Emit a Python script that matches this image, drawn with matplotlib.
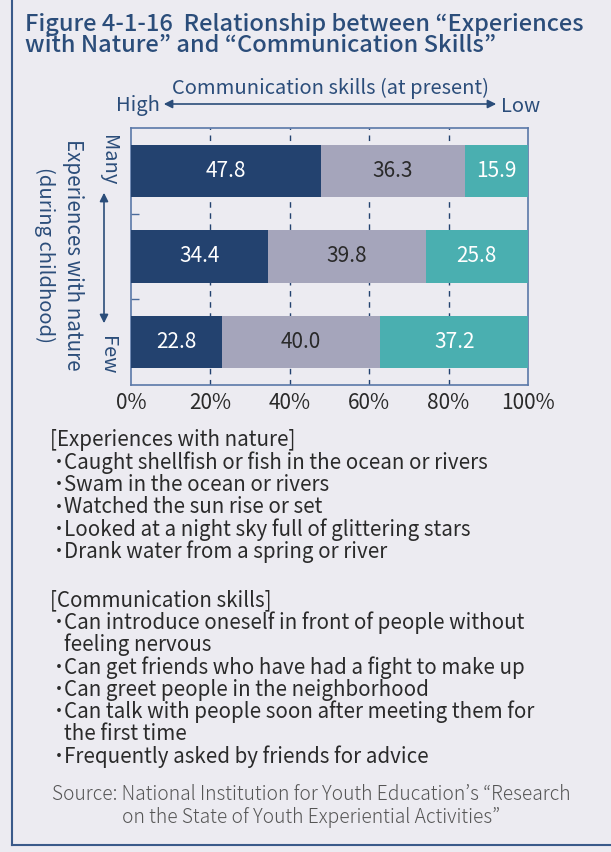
import matplotlib
matplotlib.use("Agg")
import matplotlib.pyplot as plt
import numpy as np

plt.rcParams['font.family'] = ['Noto Sans CJK JP', 'DejaVu Sans']

# --- data ---
groups = ["Many", "", "Few"]
high = [47.8, 34.4, 22.8]
middle = [36.3, 39.8, 40.0]
low = [15.9, 25.8, 37.2]
x_ticks = [0, 20, 40, 60, 80, 100]
x_ticklabels = ["0%", "20%", "40%", "60%", "80%", "100%"]

nature_items = [
    "Caught shellfish or fish in the ocean or rivers",
    "Swam in the ocean or rivers",
    "Watched the sun rise or set",
    "Looked at a night sky full of glittering stars",
    "Drank water from a spring or river",
]
comm_items = [
    "Can introduce oneself in front of people without\nfeeling nervous",
    "Can get friends who have had a fight to make up",
    "Can greet people in the neighborhood",
    "Can talk with people soon after meeting them for\nthe first time",
    "Frequently asked by friends for advice",
]

BG = "#ECEBF1"
NAVY = "#23426F"
GRAY = "#A5A5BB"
TEAL = "#4AAFB0"
TXT_BLUE = "#2B4D7A"
DARK = "#2A2A2A"

W, H = 611, 852
fig = plt.figure(figsize=(W / 100, H / 100), dpi=100, facecolor=BG)


def fx(px):
    return px / W


def fy(py):
    return 1 - py / H


# frame lines (left + bottom)
fig.add_artist(plt.Line2D([fx(12), fx(12)], [fy(0), fy(845)], color="#3A5A8A", lw=1.5))
fig.add_artist(plt.Line2D([fx(12), fx(611)], [fy(845), fy(845)], color="#3A5A8A", lw=1.5))

# title
fig.text(fx(25), fy(24), "Figure 4-1-16  Relationship between “Experiences",
         fontsize=17, color=TXT_BLUE, va="center", ha="left", fontweight="medium")
fig.text(fx(25), fy(46), "with Nature” and “Communication Skills”",
         fontsize=17, color=TXT_BLUE, va="center", ha="left", fontweight="medium")

# axes
ax = fig.add_axes([fx(131), fy(385), fx(528) - fx(131), (385 - 128) / H])
ax.set_facecolor(BG)
y = np.arange(len(groups))
bh = 0.61
ax.barh(y, high, height=bh, color=NAVY, zorder=3)
ax.barh(y, middle, left=high, height=bh, color=GRAY, zorder=3)
left2 = [a + b for a, b in zip(high, middle)]
ax.barh(y, low, left=left2, height=bh, color=TEAL, zorder=3)

for i in range(len(groups)):
    ax.text(high[i] / 2, y[i], f"{high[i]:.1f}", ha="center", va="center",
            color="white", fontsize=15, zorder=4)
    ax.text(high[i] + middle[i] / 2, y[i], f"{middle[i]:.1f}", ha="center", va="center",
            color=DARK, fontsize=15, zorder=4)
    ax.text(left2[i] + low[i] / 2, y[i], f"{low[i]:.1f}", ha="center", va="center",
            color="white", fontsize=15, zorder=4)

ax.set_xlim(0, 100)
ax.set_ylim(2.5, -0.5)
ax.set_xticks(x_ticks)
ax.set_xticklabels(x_ticklabels, fontsize=15, color=DARK)
ax.tick_params(axis="x", length=0, pad=5)
ax.set_yticks([0.5, 1.5])
ax.set_yticklabels([])
ax.tick_params(axis="y", direction="in", length=6, color="#4A6A9A", width=1)
for x in x_ticks[1:-1]:
    ax.axvline(x, color=NAVY, lw=1, ls=(0, (4, 4)), zorder=1)
for s in ax.spines.values():
    s.set_color("#5A78A8")
    s.set_linewidth(1.2)

# top axis annotation
fig.text(fx(330), fy(88), "Communication skills (at present)", fontsize=14.5,
         color=TXT_BLUE, ha="center", va="center")
fig.text(fx(138), fy(106), "High", fontsize=14.5, color=TXT_BLUE, ha="center", va="center")
fig.text(fx(521), fy(106), "Low", fontsize=14.5, color=TXT_BLUE, ha="center", va="center")
fig.add_artist(matplotlib.patches.FancyArrowPatch(
    (fx(161), fy(104)), (fx(499), fy(104)), transform=fig.transFigure,
    arrowstyle="<|-|>,head_length=5,head_width=2.5", color=TXT_BLUE, lw=1.2))

# left axis annotation
fig.text(fx(108), fy(160), "Many", fontsize=14.5, color=TXT_BLUE, ha="center", va="center",
         rotation=-90)
fig.text(fx(108), fy(355), "Few", fontsize=14.5, color=TXT_BLUE, ha="center", va="center",
         rotation=-90)
fig.add_artist(matplotlib.patches.FancyArrowPatch(
    (fx(104), fy(190)), (fx(104), fy(326)), transform=fig.transFigure,
    arrowstyle="<|-|>,head_length=5,head_width=2.5", color=TXT_BLUE, lw=1.2))
fig.text(fx(73), fy(255), "Experiences with nature", fontsize=14.8, color=TXT_BLUE,
         ha="center", va="center", rotation=-90)
fig.text(fx(45), fy(255), "(during childhood)", fontsize=14.5, color=TXT_BLUE,
         ha="center", va="center", rotation=-90)

# notes
line_h = 22.4
fs_note = 14.8
ypos = 440
fig.text(fx(50), fy(ypos), "[Experiences with nature]", fontsize=fs_note, color=DARK, va="center")
for item in nature_items:
    ypos += line_h
    fig.text(fx(53), fy(ypos), "·", fontsize=fs_note, color=DARK, va="center", fontweight="bold")
    fig.text(fx(64), fy(ypos), item, fontsize=fs_note, color=DARK, va="center")

ypos = 600
fig.text(fx(50), fy(ypos), "[Communication skills]", fontsize=fs_note, color=DARK, va="center")
for item in comm_items:
    ypos += line_h
    fig.text(fx(53), fy(ypos), "·", fontsize=fs_note, color=DARK, va="center", fontweight="bold")
    for k, part in enumerate(item.split("\n")):
        if k > 0:
            ypos += line_h
        fig.text(fx(64), fy(ypos), part, fontsize=fs_note, color=DARK, va="center")

# source
fig.text(fx(311), fy(795), "Source: National Institution for Youth Education’s “Research",
         fontsize=13.8, color="#555555", ha="center", va="center", fontweight="light")
fig.text(fx(311), fy(818), "on the State of Youth Experiential Activities”",
         fontsize=13.8, color="#555555", ha="center", va="center", fontweight="light")

fig.savefig("out.png", dpi=100, facecolor=BG)
